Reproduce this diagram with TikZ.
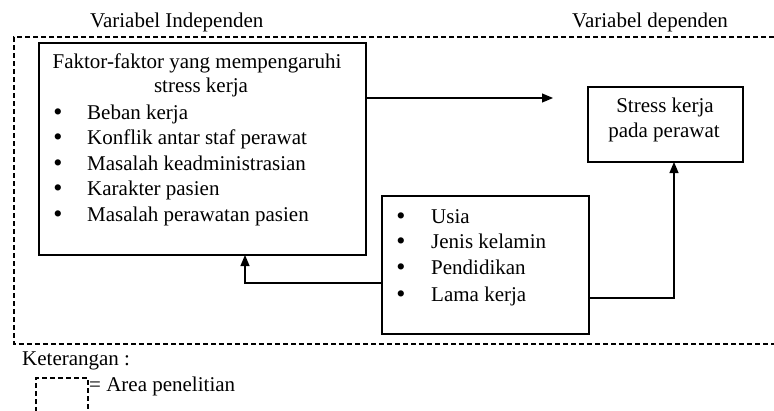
\documentclass[tikz,border=0pt]{standalone}
\usepackage{fontspec}
\setmainfont{Liberation Serif}
\usetikzlibrary{arrows.meta}
\begin{document}
\begin{tikzpicture}[x=1pt,y=-1pt,
  box/.style={draw,line width=1.2pt,inner sep=0pt,outer sep=0pt},
  area/.style={draw,line width=1.1pt,dash pattern=on 5pt off 3pt},
  lbl/.style={anchor=base west,inner sep=0pt,font=\fontsize{21}{25}\selectfont},
  ctr/.style={anchor=base,inner sep=0pt,font=\fontsize{21}{25}\selectfont},
  bul/.style={anchor=base,inner sep=0pt,font=\fontsize{26}{25}\selectfont},
  arr/.style={line width=1.2pt,-{Triangle[length=11pt,width=9pt]}},
  conn/.style={line width=1.2pt}]
\useasboundingbox (0,0) rectangle (774,410);
% research area
\draw[area] (774,37) -- (14,37) -- (14,344) -- (774,344);
% headings
\node[lbl] (hind) at (90,27) {Variabel Independen};
\node[lbl] (hdep) at (572,27) {Variabel dependen};
% boxes
\node[box,minimum width=327pt,minimum height=212pt] (fac) at (202.5,149) {};
\node[box,minimum width=155pt,minimum height=75pt] (stress) at (665.5,124.5) {};
\node[box,minimum width=207pt,minimum height=138pt] (ind) at (485.5,265) {};
% factor box text
\node[ctr] (f1) at (197,68) {Faktor-faktor yang mempengaruhi};
\node[ctr] (f2) at (201,92) {stress kerja};
\foreach \t/\y [count=\i] in {Beban kerja/119,Konflik antar staf perawat/144,Masalah keadministrasian/170,Karakter pasien/195,Masalah perawatan pasien/221}{
  \node[bul] (fb\i) at (58,\y+1) {\textbullet};
  \node[lbl] (ft\i) at (87,\y) {\t};
}
% stress box text
\node[ctr] (s1) at (665,112) {Stress kerja};
\node[ctr] (s2) at (664,137) {pada perawat};
% individual box text
\foreach \t/\y [count=\i] in {Usia/223,Jenis kelamin/248,Pendidikan/274,Lama kerja/301}{
  \node[bul] (ib\i) at (401,\y+1) {\textbullet};
  \node[lbl] (it\i) at (431,\y) {\t};
}
% connectors
\coordinate (tip) at (553,98);
\draw[arr] ([yshift=51pt]fac.east) -- (tip);
\draw[arr] ([yshift=-18pt]ind.west) -| ([xshift=42.5pt]fac.south);
\draw[arr] ([yshift=-33pt]ind.east) -| ([xshift=8.5pt]stress.south);
% legend
\node[lbl] (ket) at (22,365) {Keterangan :};
\draw[area] (36,412) -- (36,378) -- (88,378) -- (88,412);
\node[lbl] (leg) at (89,391) {= Area penelitian};
\end{tikzpicture}
\end{document}
